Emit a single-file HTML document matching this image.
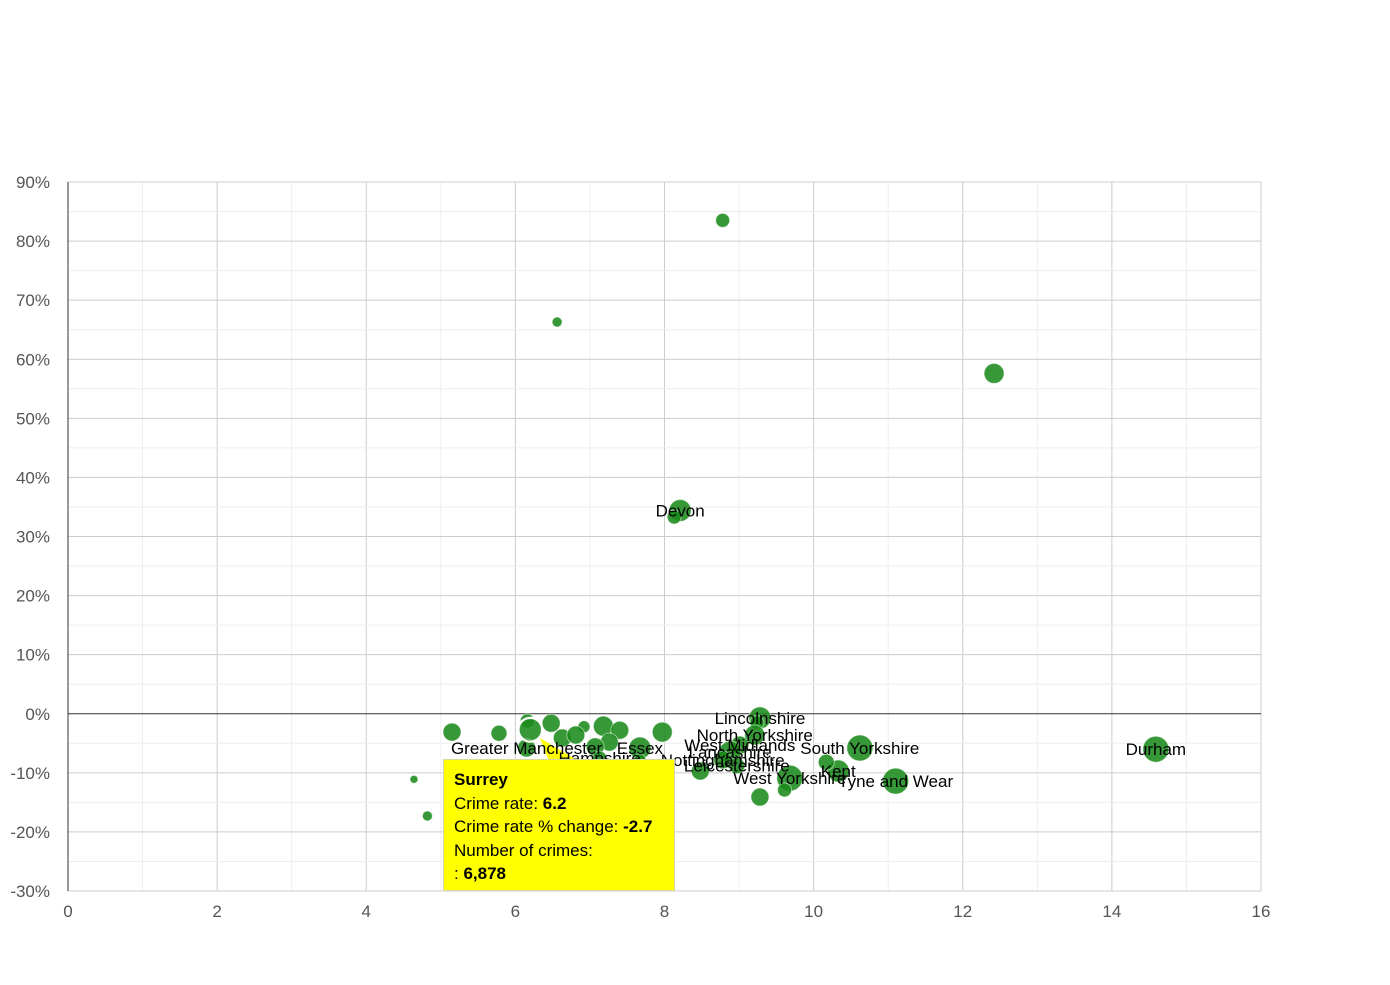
<!DOCTYPE html>
<html><head><meta charset="utf-8">
<style>
body{margin:0;background:#fff;font-family:"Liberation Sans",sans-serif;}
#wrap{position:relative;width:1390px;height:980px;}
#tip{position:absolute;left:443px;top:759px;width:232px;height:132px;background:#ffff00;border:1px solid #d8d8a0;box-sizing:border-box;font-size:17px;color:#000;padding:8px 0 0 10px;line-height:23.5px;}
</style></head><body>
<div id="wrap">
<svg id="chart" width="1390" height="980"></svg>
<div id="tip">
<div><b>Surrey</b></div>
<div>Crime rate: <b>6.2</b></div>
<div>Crime rate % change: <b>-2.7</b></div>
<div>Number of crimes:</div>
<div>: <b>6,878</b></div>
</div>
</div>
<script>
const xVals=[8.78,6.56,12.42,8.21,8.13,14.59,5.15,5.78,4.64,4.82,6.16,6.2,6.48,6.63,6.92,6.81,7.18,7.40,7.26,7.07,7.67,7.97,6.15,7.13,7.67,8.48,9.28,9.24,9.21,9.01,8.88,8.78,8.97,10.62,9.68,9.61,9.28,10.33,11.10,10.17];
const yVals=[83.5,66.3,57.6,34.4,33.3,-6.0,-3.1,-3.3,-11.1,-17.3,-1.2,-2.7,-1.6,-4.1,-2.2,-3.6,-2.1,-2.8,-4.8,-5.6,-5.8,-3.1,-5.8,-7.5,-7.8,-9.7,-0.7,-1.5,-3.6,-5.3,-6.5,-7.8,-8.8,-5.8,-10.9,-12.9,-14.1,-9.7,-11.4,-8.2];
const sizes=[7,5,10,11,7,13,9,8,4,5,7,11,9,9,6,9,10,9,9,9,11,10,9,7,6,9,11,7,10,9,11,9,8,13,13,7,9,11,13,8];
const labels=["","","","Devon","","Durham","","","","","","","","","","","","","","","Essex","","Greater Manchester","Hampshire","","","Lincolnshire","","North Yorkshire","West Midlands","Lancashire","Nottinghamshire","Leicestershire","South Yorkshire","West Yorkshire","","","Kent","Tyne and Wear",""];
const xTicks=[0,2,4,6,8,10,12,14,16];
const yTicks=[-30,-20,-10,0,10,20,30,40,50,60,70,80,90];
const L=68,R=1261,T=182,B=891,xMin=0,xMax=16,yMin=-30,yMax=90;
const sx=v=>L+(v-xMin)/(xMax-xMin)*(R-L);
const sy=v=>B-(v-yMin)/(yMax-yMin)*(B-T);
const svg=document.getElementById('chart');const NS='http://www.w3.org/2000/svg';
function mk(t,a,p){const e=document.createElementNS(NS,t);for(const k in a)e.setAttribute(k,a[k]);(p||svg).appendChild(e);return e;}
for(let v=xMin;v<=xMax;v+=1){const l=mk('line',{x1:sx(v),x2:sx(v),y1:T,y2:B,stroke:v%2?'#eeeeee':'#cccccc'});

}
for(let v=yMin;v<=yMax;v+=5){const l=mk('line',{x1:L,x2:R,y1:sy(v),y2:sy(v),stroke:v===0?'#333':(v%10?'#eeeeee':'#cccccc')});

}
const ax=mk('line',{x1:L,x2:L,y1:T,y2:B,stroke:'#333'});


xTicks.forEach(v=>{const t=mk('text',{x:sx(v),y:917,'text-anchor':'middle','font-size':'17','fill':'#555'});t.textContent=v;

});
yTicks.forEach(v=>{const t=mk('text',{x:50,y:sy(v)+6,'text-anchor':'end','font-size':'17','fill':'#555'});t.textContent=v+'%';

});
xVals.forEach((x,i)=>{const c=mk('circle',{cx:sx(x),cy:sy(yVals[i]),r:sizes[i],fill:'#1a8a1a','fill-opacity':'0.88',stroke:'#ffffff','stroke-opacity':'0.5','stroke-width':1});

});
// tooltip pointer
const p=mk('polygon',{points:'540,738 548,759 575,759',fill:'#ffff00'});


const hi=mk('circle',{cx:sx(6.2),cy:sy(-2.7),r:12,fill:'none',stroke:'#fff','stroke-width':2});


xVals.forEach((x,i)=>{if(!labels[i])return;const t=mk('text',{x:sx(x),y:sy(yVals[i])+6,'text-anchor':'middle','font-size':'17','fill':'#000'});t.textContent=labels[i];

});
</script>
</body></html>
